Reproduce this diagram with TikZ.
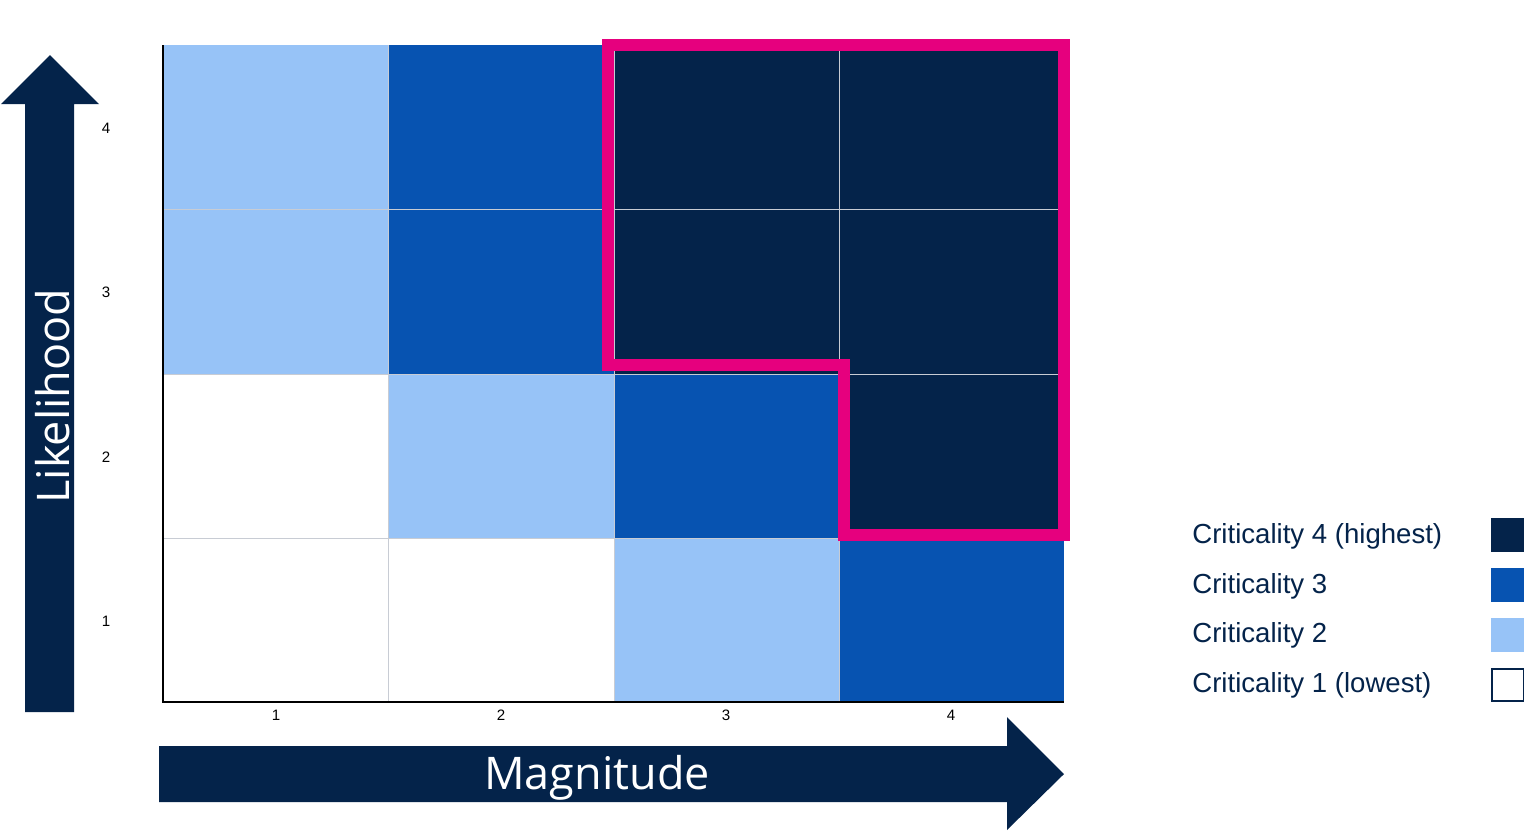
\documentclass[tikz,border=0pt]{standalone}
\usepackage{fontspec}
\setmainfont{Liberation Sans}
\newfontfamily\axisfont{Open Sans}
\definecolor{navy}{HTML}{04234A}
\definecolor{midblue}{HTML}{0753B1}
\definecolor{lightblue}{HTML}{97C3F7}
\definecolor{hotpink}{HTML}{E6007E}
\definecolor{gridgray}{HTML}{C8CCD4}
\begin{document}
\begin{tikzpicture}[x=0.02cm,y=-0.02cm,
  tick/.style={font=\fontsize{8.6}{10}\selectfont, text=black, inner sep=0pt},
  legtext/.style={font=\fontsize{15.7}{18}\selectfont, text=navy, anchor=west, inner sep=0pt},
  legbox/.style={minimum width=0.64cm, minimum height=0.64cm, inner sep=0pt, draw=navy, line width=1.1pt},
  axislabel/.style={font=\axisfont\fontsize{25.6}{29}\selectfont, text=white, inner sep=0pt},
  bigarrow/.style={fill=navy}]
\useasboundingbox (0,0) rectangle (1524,836);
% cells: columns 163,388,614,839,1064 ; rows 45,209,374,538,702
\fill[lightblue] (163,45) rectangle (388,209);
\fill[midblue] (388,45) rectangle (614,209);
\fill[navy] (614,45) rectangle (1064,209);
\fill[lightblue] (163,209) rectangle (388,374);
\fill[midblue] (388,209) rectangle (614,374);
\fill[navy] (614,209) rectangle (1064,374);
\fill[white] (163,374) rectangle (388,538);
\fill[lightblue] (388,374) rectangle (614,538);
\fill[midblue] (614,374) rectangle (839,538);
\fill[navy] (839,374) rectangle (1064,538);
\fill[white] (163,538) rectangle (614,702);
\fill[lightblue] (614,538) rectangle (839,702);
\fill[midblue] (839,538) rectangle (1064,702);
% grid lines
\foreach \x in {388,614,839} \draw[gridgray, line width=0.5pt] (\x,45) -- (\x,702);
\foreach \y in {209,374,538} \draw[gridgray, line width=0.5pt] (163,\y) -- (1064,\y);
% axes
\draw[black, line width=1.1pt] (163,45) -- (163,702) -- (1064,702);
% highlight outline
\draw[hotpink, line width=6.6pt, line join=miter] (608,45) -- (1064,45) -- (1064,535) -- (844,535) -- (844,365) -- (608,365) -- cycle;
% tick labels
\node[tick] (y4) at (106,128) {4};
\node[tick] (y3) at (106,292) {3};
\node[tick] (y2) at (106,457) {2};
\node[tick] (y1) at (106,621) {1};
\node[tick] (x1) at (276,715) {1};
\node[tick] (x2) at (501,715) {2};
\node[tick] (x3) at (726,715) {3};
\node[tick] (x4) at (951,715) {4};
% arrows
\fill[bigarrow] (25,712) -- (25,104) -- (1,104) -- (50,55) -- (99,104) -- (74,104) -- (74,712) -- cycle;
\fill[bigarrow] (159,746) -- (1007,746) -- (1007,717) -- (1064,774) -- (1007,830) -- (1007,802) -- (159,802) -- cycle;
\node[axislabel, rotate=90] (likelihood) at (53,396) {Likelihood};
\node[axislabel] (magnitude) at (597,778) {Magnitude};
% legend
\node[legtext] (l4) at (1192,536) {Criticality 4 (highest)};
\node[legtext] (l3) at (1192,586) {Criticality 3};
\node[legtext] (l2) at (1192,635) {Criticality 2};
\node[legtext] (l1) at (1192,685) {Criticality 1 (lowest)};
\node[legbox, fill=navy] (b4) at (1508,535) {};
\node[legbox, fill=midblue, draw=midblue] (b3) at (1508,585) {};
\node[legbox, fill=lightblue, draw=lightblue] (b2) at (1508,635) {};
\node[legbox, fill=white] (b1) at (1508,685) {};
\end{tikzpicture}
\end{document}
